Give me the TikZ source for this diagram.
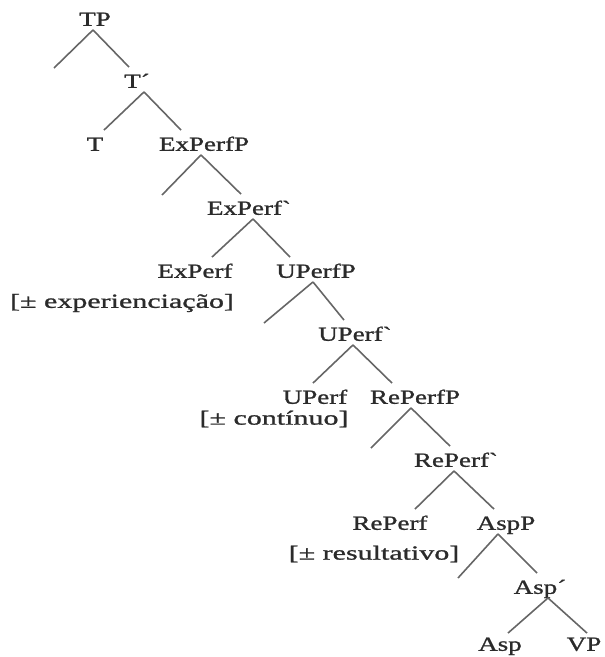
\documentclass[tikz,border=0pt]{standalone}
\usepackage{fontspec}
\newfontfamily\treefont{Liberation Serif}[FakeStretch=1.35,FakeBold=1.2]
\newfontfamily\featfont{Liberation Serif}[FakeStretch=1.5,FakeBold=1.2]
\definecolor{inkgray}{HTML}{2B2B2B}
\definecolor{branchgray}{HTML}{666666}
\tikzset{
  cat/.style={font=\treefont\fontsize{20}{22}\selectfont, text=inkgray, inner sep=0pt, text height=13.5pt, text depth=2pt},
  feat/.style={font=\featfont\fontsize{20}{22}\selectfont, text=inkgray, inner sep=0pt},
  branch/.style={draw=branchgray, line width=1.6pt}
}
\begin{document}
\begin{tikzpicture}[x=1pt, y=-1pt]
\useasboundingbox (0,0) rectangle (605,657);
% categories
\node[cat] (TP) at (95,20) {TP};
\node[cat] (Tbar) at (137,82) {T´};
\node[cat] (T) at (95,145) {T};
\node[cat] (ExPerfP) at (204,145) {ExPerfP};
\node[cat] (ExPerfbar) at (249,209) {ExPerf`};
\node[cat] (ExPerf) at (195,272) {ExPerf};
\node[cat] (UPerfP) at (316,272) {UPerfP};
\node[cat] (UPerfbar) at (355,335) {UPerf`};
\node[cat] (UPerf) at (315,398) {UPerf};
\node[cat] (RePerfP) at (415,398) {RePerfP};
\node[cat] (RePerfbar) at (456,461) {RePerf`};
\node[cat] (RePerf) at (390,524) {RePerf};
\node[cat] (AspP) at (506,524) {AspP};
\node[cat] (Aspbar) at (540,588) {Asp´};
\node[cat] (Asp) at (500,645) {Asp};
\node[cat] (VP) at (584,645) {VP};
% features
\node[feat] (ExPerffeat) at (122,303) {[± experienciação]};
\node[feat] (UPerffeat) at (274,419) {[± contínuo]};
\node[feat] (RePerffeat) at (374,554) {[± resultativo]};
% empty specifiers
\coordinate (TPspec) at (54,68);
\coordinate (ExPerfPspec) at (162,195);
\coordinate (UPerfPspec) at (264,323);
\coordinate (RePerfPspec) at (371,448);
\coordinate (AspPspec) at (458,578);
% branches
\draw[branch] ([xshift=-2pt,yshift=-2pt]TP.south) -- (TPspec);
\draw[branch] ([xshift=-2pt,yshift=-2pt]TP.south) -- ([xshift=-8pt,yshift=7pt]Tbar.north);
\draw[branch] ([xshift=7pt,yshift=-2pt]Tbar.south) -- ([xshift=9pt,yshift=7pt]T.north);
\draw[branch] ([xshift=7pt,yshift=-2pt]Tbar.south) -- ([xshift=-23pt,yshift=7pt]ExPerfP.north);
\draw[branch] ([xshift=-3pt,yshift=-2pt]ExPerfP.south) -- (ExPerfPspec);
\draw[branch] ([xshift=-3pt,yshift=-2pt]ExPerfP.south) -- ([xshift=-8pt,yshift=7pt]ExPerfbar.north);
\draw[branch] ([xshift=4pt,yshift=-2pt]ExPerfbar.south) -- ([xshift=17pt,yshift=7pt]ExPerf.north);
\draw[branch] ([xshift=4pt,yshift=-2pt]ExPerfbar.south) -- ([xshift=-26pt,yshift=7pt]UPerfP.north);
\draw[branch] ([xshift=-3pt,yshift=-2pt]UPerfP.south) -- (UPerfPspec);
\draw[branch] ([xshift=-3pt,yshift=-2pt]UPerfP.south) -- ([xshift=-11pt,yshift=7pt]UPerfbar.north);
\draw[branch] ([xshift=-2pt,yshift=-2pt]UPerfbar.south) -- ([xshift=-2pt,yshift=7pt]UPerf.north);
\draw[branch] ([xshift=-2pt,yshift=-2pt]UPerfbar.south) -- ([xshift=-23pt,yshift=7pt]RePerfP.north);
\draw[branch] ([xshift=-4pt,yshift=-2pt]RePerfP.south) -- (RePerfPspec);
\draw[branch] ([xshift=-4pt,yshift=-2pt]RePerfP.south) -- ([xshift=-6pt,yshift=7pt]RePerfbar.north);
\draw[branch] ([xshift=-2pt,yshift=-2pt]RePerfbar.south) -- ([xshift=25pt,yshift=7pt]RePerf.north);
\draw[branch] ([xshift=-2pt,yshift=-2pt]RePerfbar.south) -- ([xshift=-12pt,yshift=7pt]AspP.north);
\draw[branch] ([xshift=-8pt,yshift=-2pt]AspP.south) -- (AspPspec);
\draw[branch] ([xshift=-8pt,yshift=-2pt]AspP.south) -- ([xshift=-3pt,yshift=7pt]Aspbar.north);
\draw[branch] ([xshift=8pt,yshift=-2pt]Aspbar.south) -- ([xshift=8pt,yshift=4pt]Asp.north);
\draw[branch] ([xshift=8pt,yshift=-2pt]Aspbar.south) -- ([xshift=3pt,yshift=4pt]VP.north);
\end{tikzpicture}
\end{document}
